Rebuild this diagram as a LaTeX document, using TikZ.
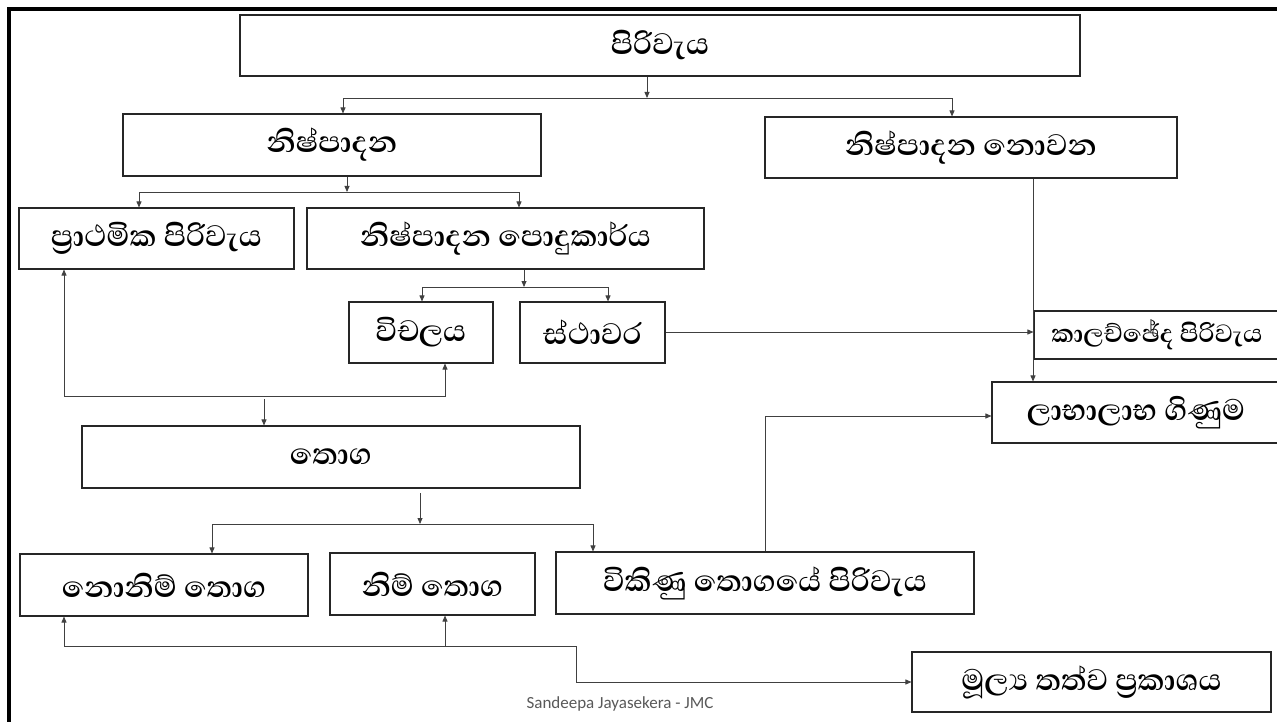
\documentclass[tikz,border=0pt]{standalone}
\usepackage{fontspec}
\usetikzlibrary{arrows.meta}
\newfontfamily\sinhalafont[Script=Sinhala]{Abhaya Libre}
\newfontfamily\footfont{Carlito}
\begin{document}
\begin{tikzpicture}[x=1pt,y=-1pt,
  box/.style={draw=black!85,line width=1.1pt,inner sep=0pt,align=center,font=\sinhalafont\bfseries\fontsize{38}{42}\selectfont},
  sbox/.style={box,font=\sinhalafont\bfseries\fontsize{32}{36}\selectfont},
  conn/.style={draw=black!75,line width=0.8pt},
  arr/.style={conn,-{Triangle[length=6pt,width=5pt]}},
  darr/.style={conn,{Triangle[length=6pt,width=5pt]}-{Triangle[length=6pt,width=5pt]}}]
\clip (0,0) rectangle (1277,722);
\fill[white] (0,0) rectangle (1277,722);
\draw[line width=3.5pt] (9,740) -- (9,9) -- (1290,9);
% boxes
\node[box,minimum width=840pt,minimum height=61pt] (A) at (660,45.5) {පිරිවැය};
\node[box,minimum width=418pt,minimum height=62pt] (B) at (332,145) {නිෂ්පාදන};
\node[box,minimum width=412pt,minimum height=61pt] (C) at (971,147.5) {නිෂ්පාදන නොවන};
\node[box,minimum width=275pt,minimum height=61pt] (D) at (156.5,238.5) {ප්^^^^200dරාථමික පිරිවැය};
\node[box,minimum width=397pt,minimum height=61pt] (E) at (505.5,238.5) {නිෂ්පාදන පොදුකාර්ය};
\node[box,minimum width=144pt,minimum height=61pt] (F) at (421,332.5) {විචලය};
\node[box,minimum width=145pt,minimum height=61pt] (G) at (592.5,332.5) {ස්ථාවර};
\node[sbox,minimum width=246pt,minimum height=48pt] (H) at (1157,335) {කාලච්ඡේද පිරිවැය};
\node[box,minimum width=288pt,minimum height=61pt] (I) at (1136,412.5) {ලාභාලාභ ගිණුම};
\node[box,minimum width=498pt,minimum height=62pt] (J) at (331,457) {තොග};
\node[box,minimum width=288pt,minimum height=62pt] (K) at (164,585) {නොනිම් තොග};
\node[box,minimum width=205pt,minimum height=62pt] (L) at (432.5,584) {නිම් තොග};
\node[box,minimum width=418pt,minimum height=62pt] (M) at (765,583) {විකිණු තොගයේ පිරිවැය};
\node[box,minimum width=359pt,minimum height=60pt] (N) at (1091.5,682) {මූල්^^^^200dය තත්ව ප්^^^^200dරකාශය};
\node[font=\footfont\fontsize{17}{20}\selectfont,text=black!65] (ft) at (620,704) {Sandeepa Jayasekera - JMC};
% connectors
\coordinate (a1) at (647,98);
\coordinate (a2) at (343,98);
\coordinate (a3) at (952,98);
\draw[arr] (A.south -| a1) -- (a1);
\draw[darr] (B.north -| a2) -- (a2) -- (a3) -- (C.north -| a3);
\coordinate (b1) at (347,192);
\coordinate (b2) at (139,192);
\coordinate (b3) at (519,192);
\draw[arr] (B.south -| b1) -- (b1);
\draw[darr] (D.north -| b2) -- (b2) -- (b3) -- (E.north -| b3);
\coordinate (e1) at (524,287);
\coordinate (e2) at (422,287);
\coordinate (e3) at (608,287);
\draw[arr] (E.south -| e1) -- (e1);
\draw[darr] (F.north -| e2) -- (e2) -- (e3) -- (G.north -| e3);
\coordinate (g1) at (665,332);
\draw[arr] (G.east |- g1) -- (H.west |- g1);
\coordinate (c1) at (1033,300);
\draw[arr] (C.south -| c1) -- (I.north -| c1);
\coordinate (m1) at (765,416);
\draw[arr] (M.north -| m1) -- (m1) -- (I.west |- m1);
\coordinate (j1) at (64,396);
\coordinate (j2) at (445,396);
\coordinate (j3) at (264,399);
\draw[darr] (D.south -| j1) -- (j1) -- (j2) -- (F.south -| j2);
\draw[arr] (j3) -- (J.north -| j3);
\coordinate (k0) at (420,493);
\coordinate (k1) at (420,524);
\coordinate (k2) at (212,524);
\coordinate (k3) at (593,524);
\draw[arr] (k0) -- (k1);
\draw[darr] (K.north -| k2) -- (k2) -- (k3) -- (M.north -| k3);
\coordinate (n1) at (64,646);
\coordinate (n2) at (445,646);
\coordinate (n3) at (576,646);
\coordinate (n4) at (576,682);
\draw[darr] (K.south -| n1) -- (n1) -- (n3) -- (n4) -- (N.west |- n4);
\draw[arr] (n2) -- (L.south -| n2);
\end{tikzpicture}
\end{document}
